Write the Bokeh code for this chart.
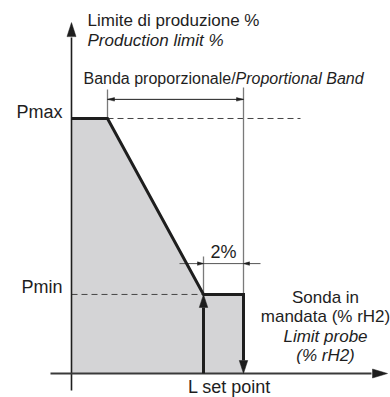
from bokeh.plotting import figure
from bokeh.models import Range1d
from bokeh.core.properties import value
from bokeh.embed import file_html
from bokeh.resources import INLINE

# ---- data (x: % rH2 from the production axis, y: production limit %) ----
p_max = 100
p_min = 31
band_start = 1.8
l_set_point = 6.6
hysteresis = 2.0
l_off = l_set_point + hysteresis

profile_x = [0, band_start, l_set_point, l_off]
profile_y = [p_max, p_max, p_min, p_min]

y_labels = ["Pmax", "Pmin"]
y_label_values = [p_max, p_min]

title_lines = ["Limite di produzione %", "Production limit %"]
band_texts = ["Banda proporzionale/", "Proportional Band"]
probe_lines = ["Sonda in", "mandata (% rH2)", "Limit probe", "(% rH2)"]
probe_italic = [False, False, True, True]
x_label = "L set point"
hyst_label = "2%"

# ---- layout constants ----
W, H = 390, 397
X0, X1 = -3.55, 15.95
Y0, Y1 = -9.41, 146.27
SX = W / (X1 - X0)
SY = H / (Y1 - Y0)
FONT = value("Liberation Sans")
INK = "#1e1e1e"

p = figure(width=W, height=H, x_range=Range1d(X0, X1), y_range=Range1d(Y0, Y1),
           output_backend="svg", toolbar_location=None, title=None,
           x_axis_location=None, y_axis_location=None, min_border=0,
           outline_line_color=None)
p.grid.visible = False

heads_x, heads_y = [], []


def head(tx, ty, dx, dy, length, width):
    bx, by = -dx * length, -dy * length
    nx, ny = -dy, dx
    pts = [(0, 0), (bx + nx * width / 2, by + ny * width / 2), (bx - nx * width / 2, by - ny * width / 2)]
    heads_x.append([tx + a / SX for a, b in pts])
    heads_y.append([ty + b / SY for a, b in pts])


# grey area
p.patch(profile_x + [l_off, 0], profile_y + [0, 0], fill_color="#d4d4d6", line_color=None)

# dashed reference lines
p.line([band_start, 11.45], [p_max, p_max], line_color="#444444", line_width=1, line_dash="6 4")
p.line([0, l_set_point], [p_min, p_min], line_color="#444444", line_width=1, line_dash="6 4")

# grey guide lines
p.segment(x0=[band_start, l_off, l_set_point], y0=[p_max, p_min, p_min],
          x1=[band_start, l_off, l_set_point], y1=[111.4, 112.2, 45.9],
          line_color="#7a7a7a", line_width=1.3)

# band arrow
band_y = 107.5
p.line([band_start, l_off], [band_y, band_y], line_color=INK, line_width=1)
head(band_start, band_y, -1, 0, 7, 3.5)
head(l_off, band_y, 1, 0, 7, 3.5)

# 2% arrows
hy = 43.1
p.line([5.4, 9.45], [hy, hy], line_color="#555555", line_width=1)
head(l_set_point, hy, 1, 0, 6, 3.5)
head(l_off, hy, -1, 0, 6, 3.5)

# axes
p.line([0, 0], [-6.7, 131.8], line_color=INK, line_width=1.6)
head(0, 137.6, 0, 1, 14, 9)
p.line([-1.05, 15.0], [0, 0], line_color="#3a3a3a", line_width=2)
head(15.8, 0, 1, 0, 15, 9)

# profile
p.line(profile_x + [l_off], profile_y + [5.1], line_color=INK, line_width=3, line_join="miter")
p.line([l_set_point, l_set_point], [0, p_min - 5.1], line_color=INK, line_width=3)
head(l_set_point, p_min, 0, 1, 13, 8.5)
head(l_off, 0, 0, -1, 13, 8.5)

p.patches(heads_x, heads_y, fill_color=INK, line_color=INK, line_width=0.5)

# texts
p.text(x=[0.8], y=[138.4], text=[title_lines[0]], text_font=FONT, text_font_size="17px",
       text_color=INK, text_align="left", text_baseline="middle")
p.text(x=[0.8], y=[130.6], text=[title_lines[1]], text_font=FONT, text_font_size="17px",
       text_font_style="italic", text_color=INK, text_align="left", text_baseline="middle")
p.text(x=[0.6], y=[115.7], text=[band_texts[0]], text_font=FONT, text_font_size="16px",
       text_color=INK, text_align="left", text_baseline="middle")
p.text(x=[8.2], y=[115.7], text=[band_texts[1]], text_font=FONT, text_font_size="16px",
       text_font_style="italic", text_color=INK, text_align="left", text_baseline="middle")
p.text(x=[-0.45, -0.45], y=[y_label_values[0] + 2.4, y_label_values[1] + 2.8], text=y_labels,
       text_font=FONT, text_font_size="18px", text_color=INK, text_align="right", text_baseline="middle")
p.text(x=[l_set_point + hysteresis / 2], y=[47.5], text=[hyst_label], text_font=FONT,
       text_font_size="18px", text_color=INK, text_align="center", text_baseline="middle")
p.text(x=[l_set_point + 1.3], y=[-5.3], text=[x_label], text_font=FONT,
       text_font_size="18px", text_color=INK, text_align="center", text_baseline="middle")
probe_y = [29.8, 22.35, 14.5, 7.06]
for t, yy, it in zip(probe_lines, probe_y, probe_italic):
    p.text(x=[12.7], y=[yy], text=[t], text_font=FONT, text_font_size="17px",
           text_font_style="italic" if it else "normal", text_color=INK,
           text_align="center", text_baseline="middle")

open("out.html", "w").write(file_html(p, INLINE))
